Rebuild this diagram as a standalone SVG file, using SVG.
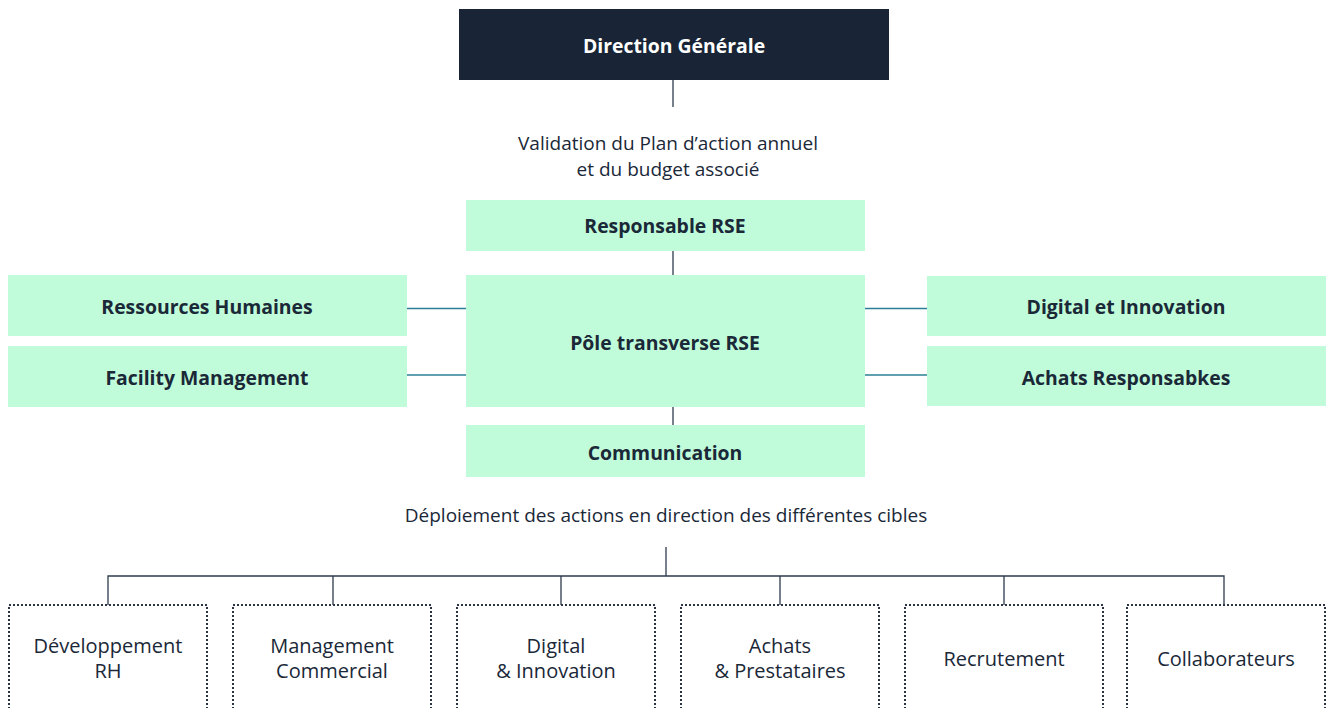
<svg xmlns="http://www.w3.org/2000/svg" width="1326" height="708" viewBox="0 0 1326 708">
<style>
.g{fill:#c0fcd9}
.b{font-family:"Open Sans","Liberation Sans",sans-serif;font-weight:bold;font-size:19.4px;fill:#1a2838;text-anchor:middle}
.n{font-family:"Open Sans","Liberation Sans",sans-serif;font-size:20px;fill:#1a2838;text-anchor:middle}
.s{font-size:19px}
.d{fill:none;stroke:#2a3444;stroke-width:2;stroke-dasharray:2 2}
.c{fill:none;stroke:#2f3b4c;stroke-width:1.3}
.t{fill:none;stroke:#2a7f96;stroke-width:1.3}
</style>
<rect width="1326" height="708" fill="#fff"/>
<g id="connectors">
<line class="c" x1="673" y1="80" x2="673" y2="107" stroke="#6b7280"/>
<line class="c" x1="673" y1="251" x2="673" y2="275"/>
<line class="c" x1="673" y1="407" x2="673" y2="425"/>
<line class="t" x1="404" y1="308.5" x2="467" y2="308.5"/>
<line class="t" x1="404" y1="375" x2="467" y2="375" stroke="#5a9ba8"/>
<line class="t" x1="865" y1="308.5" x2="928" y2="308.5"/>
<line class="t" x1="865" y1="375" x2="928" y2="375" stroke="#5a9ba8"/>
<line class="c" x1="666" y1="547" x2="666" y2="576"/>
<path class="c" d="M108 605V576H1224V605M333 576V605M561 576V605M780 576V605M1004 576V605"/>
</g>
<g id="direction-generale">
<rect x="459" y="9" width="430" height="71" fill="#192536"/>
<text class="b" x="674" y="53" style="fill:#fff">Direction Générale</text>
</g>
<g id="label-validation">
<text class="n s" x="668" y="150">Validation du Plan d’action annuel</text>
<text class="n s" x="668" y="176">et du budget associé</text>
</g>
<g id="responsable-rse">
<rect class="g" x="466" y="200" width="399" height="51"/>
<text class="b" x="665" y="233">Responsable RSE</text>
</g>
<g id="pole-rse">
<rect class="g" x="466" y="275" width="399" height="132"/>
<text class="b" x="665" y="350">Pôle transverse RSE</text>
</g>
<g id="communication">
<rect class="g" x="466" y="425" width="399" height="52"/>
<text class="b" x="665" y="460">Communication</text>
</g>
<g id="ressources-humaines">
<rect class="g" x="8" y="275" width="399" height="61"/>
<text class="b" x="207" y="314">Ressources Humaines</text>
</g>
<g id="facility-management">
<rect class="g" x="8" y="346" width="399" height="61"/>
<text class="b" x="207" y="385">Facility Management</text>
</g>
<g id="digital-innovation">
<rect class="g" x="927" y="276" width="399" height="60"/>
<text class="b" x="1126" y="314">Digital et Innovation</text>
</g>
<g id="achats-responsables">
<rect class="g" x="927" y="346" width="399" height="60"/>
<text class="b" x="1126" y="385">Achats Responsabkes</text>
</g>
<g id="label-deploiement">
<text class="n s" x="666" y="522">Déploiement des actions en direction des différentes cibles</text>
</g>
<g id="developpement-rh">
<rect class="d" x="9" y="605" width="198" height="120"/>
<text class="n" x="108" y="653">Développement</text>
<text class="n" x="108" y="678">RH</text>
</g>
<g id="management-commercial">
<rect class="d" x="233" y="605" width="198" height="120"/>
<text class="n" x="332" y="653">Management</text>
<text class="n" x="332" y="678">Commercial</text>
</g>
<g id="digital-innovation-cible">
<rect class="d" x="457" y="605" width="198" height="120"/>
<text class="n" x="556" y="653">Digital</text>
<text class="n" x="556" y="678">&amp; Innovation</text>
</g>
<g id="achats-prestataires">
<rect class="d" x="681" y="605" width="198" height="120"/>
<text class="n" x="780" y="653">Achats</text>
<text class="n" x="780" y="678">&amp; Prestataires</text>
</g>
<g id="recrutement">
<rect class="d" x="905" y="605" width="198" height="120"/>
<text class="n" x="1004" y="666">Recrutement</text>
</g>
<g id="collaborateurs">
<rect class="d" x="1127" y="605" width="198" height="120"/>
<text class="n" x="1226" y="666">Collaborateurs</text>
</g>
</svg>
